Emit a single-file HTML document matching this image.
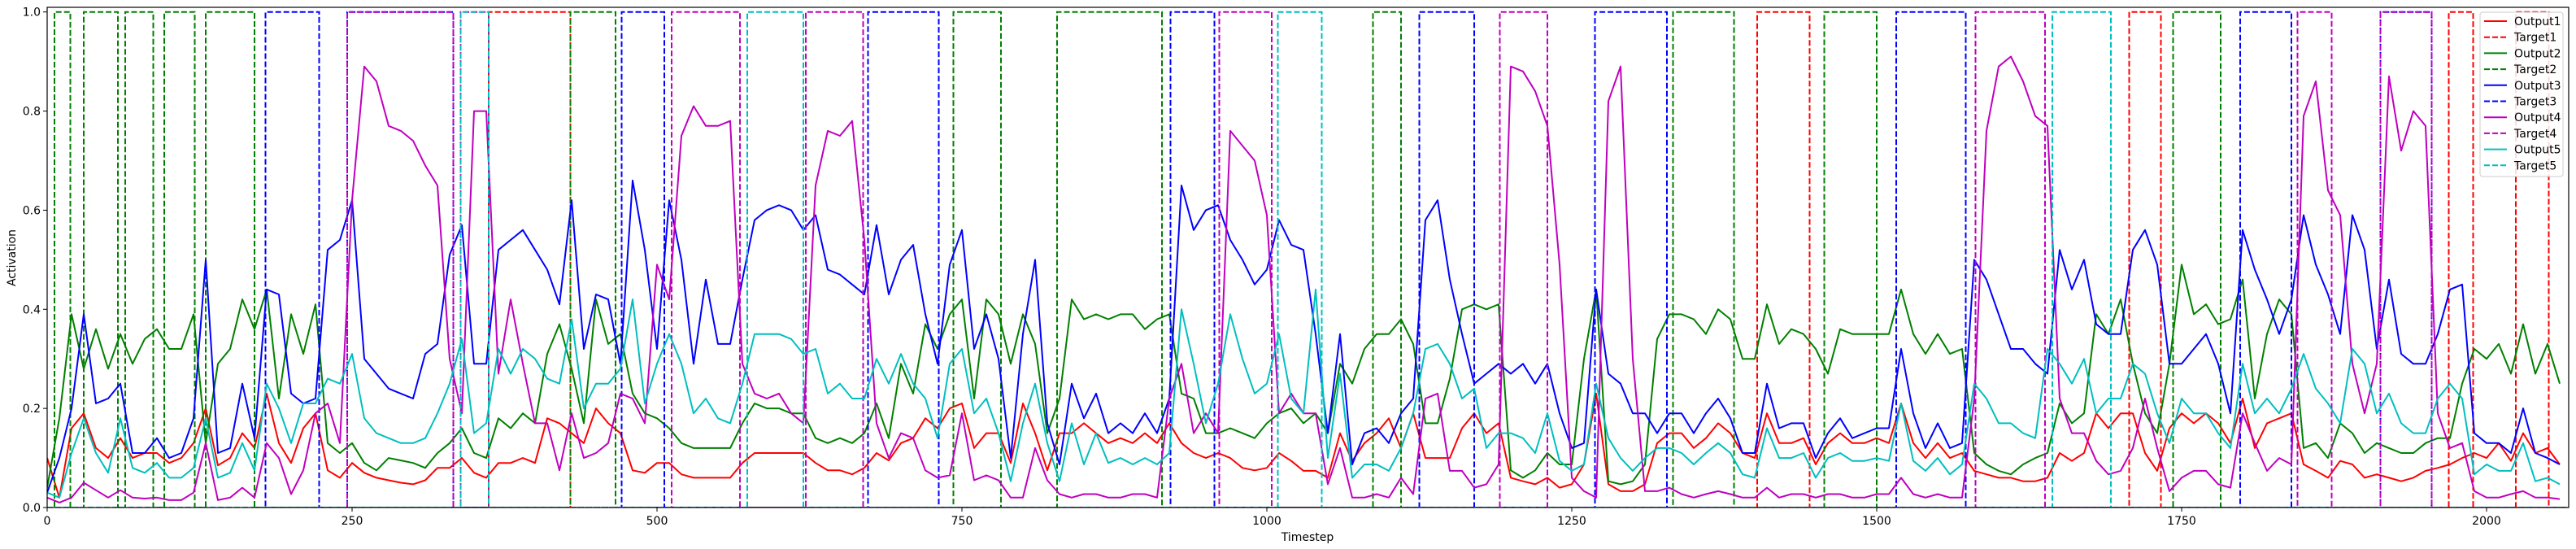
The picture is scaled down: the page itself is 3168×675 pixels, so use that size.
<!DOCTYPE html>
<html><head><meta charset="utf-8"><style>
html,body{margin:0;padding:0;background:#fff}
svg{display:block}
text{font-family:"DejaVu Sans","Liberation Sans",sans-serif;fill:#000}
</style></head><body>
<svg id="chart" width="3168" height="675" viewBox="0 0 3168 675" xmlns="http://www.w3.org/2000/svg">
<defs><clipPath id="plotclip"><rect x="58" y="9" width="3101" height="615"/></clipPath></defs>
<rect x="0" y="0" width="3168" height="675" fill="#fff"/>
<g id="series" clip-path="url(#plotclip)"></g>
<rect x="58" y="9" width="3101" height="615" fill="none" stroke="#000" stroke-width="1.2"/>
<g id="xticks"></g>
<g id="yticks"></g>
<text x="1608" y="665" font-size="14" text-anchor="middle">Timestep</text>
<text transform="translate(19,317) rotate(-90)" font-size="14" text-anchor="middle">Activation</text>
<g id="legend"></g>
</svg>
<script>
const SAMPLE_STEP = 10;
const xTickValues = [0,250,500,750,1000,1250,1500,1750,2000];
const yTickValues = [0,0.2,0.4,0.6,0.8,1.0];
const yTickLabels = ["0.0","0.2","0.4","0.6","0.8","1.0"];
const seriesNames = ["Output1","Target1","Output2","Target2","Output3","Target3","Output4","Target4","Output5","Target5"];
const output1 = [0.1,0.02,0.16,0.19,0.12,0.1,0.14,0.1,0.11,0.11,0.09,0.1,0.13,0.2,0.085,0.1,0.15,
0.12,0.23,0.13,0.09,0.16,0.19,0.075,0.06,0.09,0.07,0.06,0.055,0.05,0.047,0.055,0.08,0.08,0.1,0.07,0.06,0.09,0.09,0.1,0.09,0.18,0.17,0.15,0.13,0.2,0.17,0.15,0.075,0.07,0.09,
0.09,0.067,0.06,0.06,0.06,0.06,0.09,0.11,0.11,0.11,0.11,0.11,0.09,0.075,0.075,0.067,0.08,0.11,0.095,0.13,0.14,0.18,0.16,0.2,0.21,0.12,0.15,0.15,0.09,0.21,0.15,0.075,0.15,0.15,0.17,0.15,0.13,0.14,0.13,0.15,0.13,0.17,0.13,0.11,0.1,0.11,0.1,0.08,0.075,0.08,0.11,
0.094,0.074,0.074,0.06,0.15,0.094,0.13,0.15,0.18,0.12,0.19,0.1,0.1,0.1,0.16,0.19,0.15,0.17,0.06,0.053,0.047,0.06,0.04,0.047,0.087,0.23,0.047,0.033,0.033,0.047,0.13,0.15,0.15,0.12,0.14,0.17,0.15,0.11,0.1,0.19,0.13,0.13,0.14,0.087,0.13,0.15,0.13,0.13,0.14,0.13,0.21,0.13,
0.1,0.13,0.1,0.11,0.074,0.067,0.06,0.06,0.053,0.053,0.06,0.11,0.094,0.11,0.19,0.16,0.19,0.19,0.11,0.074,0.16,0.19,0.17,0.19,0.17,0.13,0.22,0.12,0.17,0.18,0.19,0.087,0.074,0.06,0.094,0.087,0.06,0.067,0.06,0.053,0.06,0.074,0.08,0.087,0.1,0.11,0.1,0.13,0.094,0.15,0.11,0.12,0.087];
const output2 = [0.04,0.18,0.39,0.28,0.36,0.28,0.35,0.29,0.34,0.36,0.32,0.32,0.39,0.13,0.29,0.32,0.42,
0.36,0.44,0.22,0.39,0.31,0.41,0.13,0.11,0.13,0.09,0.075,0.1,0.095,0.09,0.08,0.11,0.13,0.16,0.11,0.1,0.18,0.16,0.19,0.17,0.31,0.37,0.28,0.17,0.42,0.33,0.35,0.23,0.19,0.18,
0.16,0.13,0.12,0.12,0.12,0.12,0.17,0.21,0.2,0.2,0.19,0.19,0.14,0.13,0.14,0.13,0.15,0.21,0.14,0.29,0.23,0.37,0.32,0.39,0.42,0.22,0.42,0.39,0.29,0.39,0.33,0.15,0.22,0.42,0.38,0.39,0.38,0.39,0.39,0.36,0.38,0.39,0.23,0.22,0.15,0.15,0.16,0.15,0.14,0.17,0.19,
0.2,0.17,0.19,0.15,0.29,0.25,0.32,0.35,0.35,0.38,0.33,0.17,0.17,0.26,0.4,0.41,0.4,0.41,0.075,0.06,0.075,0.11,0.087,0.087,0.3,0.44,0.053,0.047,0.053,0.087,0.34,0.39,0.39,0.38,0.35,0.4,0.38,0.3,0.3,0.41,0.33,0.36,0.35,0.32,0.27,0.36,0.35,0.35,0.35,0.35,0.44,0.35,
0.31,0.35,0.31,0.32,0.11,0.087,0.074,0.067,0.087,0.1,0.11,0.21,0.17,0.19,0.39,0.35,0.42,0.29,0.19,0.15,0.29,0.49,0.39,0.41,0.37,0.38,0.46,0.22,0.35,0.42,0.39,0.12,0.13,0.1,0.17,0.15,0.11,0.13,0.12,0.11,0.11,0.13,0.14,0.14,0.25,0.32,0.3,0.33,0.27,0.37,0.27,0.33,0.25];
const output3 = [0.03,0.1,0.2,0.39,0.21,0.22,0.25,0.11,0.11,0.14,0.1,0.11,0.18,0.5,0.11,0.12,0.25,
0.14,0.44,0.43,0.23,0.21,0.22,0.52,0.54,0.62,0.3,0.27,0.24,0.23,0.22,0.31,0.33,0.51,0.57,0.29,0.29,0.52,0.54,0.56,0.52,0.48,0.41,0.62,0.32,0.43,0.42,0.29,0.66,0.52,0.32,
0.62,0.5,0.29,0.46,0.33,0.33,0.46,0.58,0.6,0.61,0.6,0.56,0.59,0.48,0.47,0.45,0.43,0.57,0.43,0.5,0.53,0.39,0.29,0.49,0.56,0.32,0.39,0.3,0.1,0.35,0.5,0.17,0.087,0.25,0.18,0.23,0.15,0.17,0.15,0.19,0.15,0.22,0.65,0.56,0.6,0.61,0.54,0.5,0.45,0.48,0.58,
0.53,0.52,0.35,0.15,0.35,0.087,0.15,0.16,0.13,0.19,0.22,0.58,0.62,0.46,0.35,0.25,0.27,0.29,0.27,0.29,0.25,0.29,0.19,0.12,0.13,0.44,0.27,0.25,0.19,0.19,0.15,0.19,0.19,0.15,0.19,0.22,0.18,0.11,0.11,0.25,0.16,0.17,0.17,0.1,0.15,0.18,0.14,0.15,0.16,0.16,0.32,0.19,
0.12,0.17,0.12,0.13,0.5,0.46,0.39,0.32,0.32,0.29,0.27,0.52,0.44,0.5,0.37,0.35,0.35,0.52,0.56,0.49,0.29,0.29,0.32,0.35,0.29,0.19,0.56,0.48,0.42,0.35,0.42,0.59,0.49,0.43,0.35,0.59,0.52,0.32,0.46,0.31,0.29,0.29,0.35,0.44,0.45,0.15,0.13,0.13,0.11,0.2,0.11,0.1,0.087];
const output4 = [0.02,0.01,0.02,0.05,0.035,0.02,0.035,0.02,0.018,0.02,0.015,0.015,0.03,0.13,0.015,0.02,0.04,
0.02,0.13,0.1,0.027,0.075,0.19,0.21,0.13,0.62,0.89,0.86,0.77,0.76,0.74,0.69,0.65,0.3,0.19,0.8,0.8,0.27,0.42,0.29,0.17,0.17,0.075,0.19,0.1,0.11,0.13,0.23,0.22,0.17,0.49,
0.42,0.75,0.81,0.77,0.77,0.78,0.29,0.23,0.22,0.23,0.19,0.17,0.65,0.76,0.75,0.78,0.54,0.17,0.1,0.15,0.14,0.075,0.06,0.065,0.19,0.055,0.065,0.055,0.02,0.02,0.12,0.055,0.027,0.02,0.027,0.027,0.02,0.02,0.027,0.027,0.02,0.22,0.29,0.15,0.19,0.15,0.76,0.73,0.7,0.59,0.19,
0.23,0.19,0.19,0.047,0.12,0.02,0.02,0.027,0.02,0.06,0.027,0.22,0.23,0.074,0.074,0.04,0.047,0.087,0.89,0.88,0.84,0.77,0.49,0.06,0.033,0.02,0.82,0.89,0.3,0.033,0.033,0.04,0.027,0.02,0.027,0.033,0.027,0.02,0.02,0.04,0.02,0.027,0.027,0.02,0.027,0.027,0.02,0.02,0.027,0.027,0.06,0.027,
0.02,0.027,0.02,0.02,0.22,0.76,0.89,0.91,0.86,0.79,0.77,0.22,0.15,0.15,0.094,0.067,0.074,0.12,0.22,0.12,0.033,0.06,0.074,0.074,0.047,0.04,0.19,0.13,0.074,0.1,0.087,0.79,0.86,0.64,0.59,0.29,0.19,0.29,0.87,0.72,0.8,0.77,0.19,0.12,0.13,0.033,0.02,0.02,0.027,0.033,0.02,0.02,0.017];
const output5 = [0.03,0.02,0.11,0.18,0.11,0.07,0.18,0.08,0.07,0.09,0.06,0.06,0.08,0.18,0.06,0.07,0.13,
0.075,0.25,0.2,0.13,0.21,0.21,0.26,0.25,0.31,0.18,0.15,0.14,0.13,0.13,0.14,0.19,0.25,0.34,0.15,0.17,0.32,0.27,0.32,0.3,0.26,0.25,0.38,0.2,0.25,0.25,0.28,0.42,0.21,0.29,
0.35,0.29,0.19,0.22,0.18,0.17,0.25,0.35,0.35,0.35,0.34,0.31,0.32,0.23,0.25,0.22,0.22,0.3,0.25,0.31,0.25,0.22,0.14,0.29,0.32,0.19,0.22,0.15,0.053,0.17,0.25,0.13,0.053,0.17,0.087,0.15,0.09,0.1,0.087,0.1,0.087,0.11,0.4,0.29,0.17,0.25,0.39,0.3,0.23,0.25,0.35,
0.22,0.19,0.44,0.1,0.27,0.06,0.087,0.087,0.074,0.12,0.19,0.32,0.33,0.29,0.22,0.24,0.12,0.15,0.15,0.14,0.11,0.19,0.094,0.074,0.087,0.25,0.14,0.1,0.074,0.1,0.12,0.12,0.11,0.087,0.11,0.13,0.11,0.067,0.06,0.16,0.1,0.1,0.11,0.06,0.1,0.11,0.094,0.094,0.1,0.094,0.21,0.094,
0.074,0.1,0.067,0.087,0.25,0.22,0.17,0.17,0.15,0.14,0.32,0.29,0.25,0.3,0.19,0.22,0.22,0.29,0.27,0.19,0.13,0.22,0.19,0.19,0.15,0.12,0.29,0.19,0.22,0.19,0.24,0.31,0.24,0.21,0.17,0.32,0.29,0.19,0.23,0.17,0.15,0.15,0.22,0.25,0.22,0.067,0.087,0.074,0.074,0.13,0.053,0.06,0.047];
const target1 = [[362,429],[1402,1445],[1707,1733],[1969,1989],[2024,2051]];
const target2 = [[6,19],[30,58],[64,87],[96,121],[130,170],[429,466],[743,782],[828,914],[1087,1110],[1333,1383],[1457,1500],[1743,1782]];
const target3 = [[179,223],[246,333],[471,506],[673,731],[921,957],[1125,1170],[1269,1328],[1516,1573],[1798,1840],[1913,1955]];
const target4 = [[246,333],[339,362],[512,568],[622,669],[961,1004],[1191,1230],[1581,1638],[1845,1873],[1913,1955]];
const target5 = [[339,362],[574,620],[1009,1045],[1644,1692]];
const T_END = 2066;

const NS = "http://www.w3.org/2000/svg";
function xs(t){ return 58 + 1.5 * t; }
function ys(v){ return 624 - 609.3 * v; }
const colors = ["#ff0000","#008000","#0000ff","#bf00bf","#00bfbf"];
const outputs = [output1,output2,output3,output4,output5];
const targets = [target1,target2,target3,target4,target5];
const g = document.getElementById("series");
for (let i = 0; i < 5; i++) {
  let d = "";
  outputs[i].forEach((v, k) => { d += (k ? "L" : "M") + xs(k * SAMPLE_STEP).toFixed(1) + "," + ys(v).toFixed(1); });
  const p = document.createElementNS(NS, "path");
  p.setAttribute("d", d);
  p.setAttribute("fill", "none");
  p.setAttribute("stroke", colors[i]);
  p.setAttribute("stroke-width", "2");
  p.setAttribute("stroke-linejoin", "round");
  
  
  g.appendChild(p);
  let td = "M" + xs(0) + "," + ys(0);
  targets[i].forEach(iv => {
    td += "L" + xs(iv[0]) + "," + ys(0) + "L" + xs(iv[0]) + "," + ys(1) + "L" + xs(iv[1]) + "," + ys(1) + "L" + xs(iv[1]) + "," + ys(0);
  });
  td += "L" + xs(T_END) + "," + ys(0);
  const tp = document.createElementNS(NS, "path");
  tp.setAttribute("d", td);
  tp.setAttribute("fill", "none");
  tp.setAttribute("stroke", colors[i]);
  tp.setAttribute("stroke-width", "2");
  tp.setAttribute("stroke-dasharray", "7,3");
  
  
  g.appendChild(tp);
}
const xt = document.getElementById("xticks");
xTickValues.forEach(v => {
  const l = document.createElementNS(NS, "line");
  l.setAttribute("x1", xs(v)); l.setAttribute("x2", xs(v));
  l.setAttribute("y1", 624); l.setAttribute("y2", 629);
  l.setAttribute("stroke", "#000");
  
  
  xt.appendChild(l);
  const t = document.createElementNS(NS, "text");
  t.setAttribute("x", xs(v)); t.setAttribute("y", 645);
  t.setAttribute("font-size", "14"); t.setAttribute("text-anchor", "middle");
  t.textContent = String(v);
  
  
  xt.appendChild(t);
});
const yt = document.getElementById("yticks");
yTickValues.forEach((v, i) => {
  const l = document.createElementNS(NS, "line");
  l.setAttribute("x1", 53); l.setAttribute("x2", 58);
  l.setAttribute("y1", ys(v)); l.setAttribute("y2", ys(v));
  l.setAttribute("stroke", "#000");
  
  
  yt.appendChild(l);
  const t = document.createElementNS(NS, "text");
  t.setAttribute("x", 50); t.setAttribute("y", ys(v) + 5);
  t.setAttribute("font-size", "14"); t.setAttribute("text-anchor", "end");
  t.textContent = yTickLabels[i];
  
  
  yt.appendChild(t);
});
const lg = document.getElementById("legend");
const box = document.createElementNS(NS, "rect");
box.setAttribute("x", 3050); box.setAttribute("y", 15); box.setAttribute("width", 102); box.setAttribute("height", 202);
box.setAttribute("rx", 3); box.setAttribute("fill", "#fff"); box.setAttribute("fill-opacity", "0.85");
box.setAttribute("stroke", "#ccc");


lg.appendChild(box);
seriesNames.forEach((name, i) => {
  const y = 26 + i * 19.7;
  const l = document.createElementNS(NS, "line");
  l.setAttribute("x1", 3055); l.setAttribute("x2", 3083);
  l.setAttribute("y1", y); l.setAttribute("y2", y);
  l.setAttribute("stroke", colors[Math.floor(i / 2)]);
  l.setAttribute("stroke-width", "2");
  if (i % 2) l.setAttribute("stroke-dasharray", "7,3");
  
  
  lg.appendChild(l);
  const t = document.createElementNS(NS, "text");
  t.setAttribute("x", 3092); t.setAttribute("y", y + 5);
  t.setAttribute("font-size", "14");
  t.textContent = name;
  
  
  lg.appendChild(t);
});
</script>
</body></html>
